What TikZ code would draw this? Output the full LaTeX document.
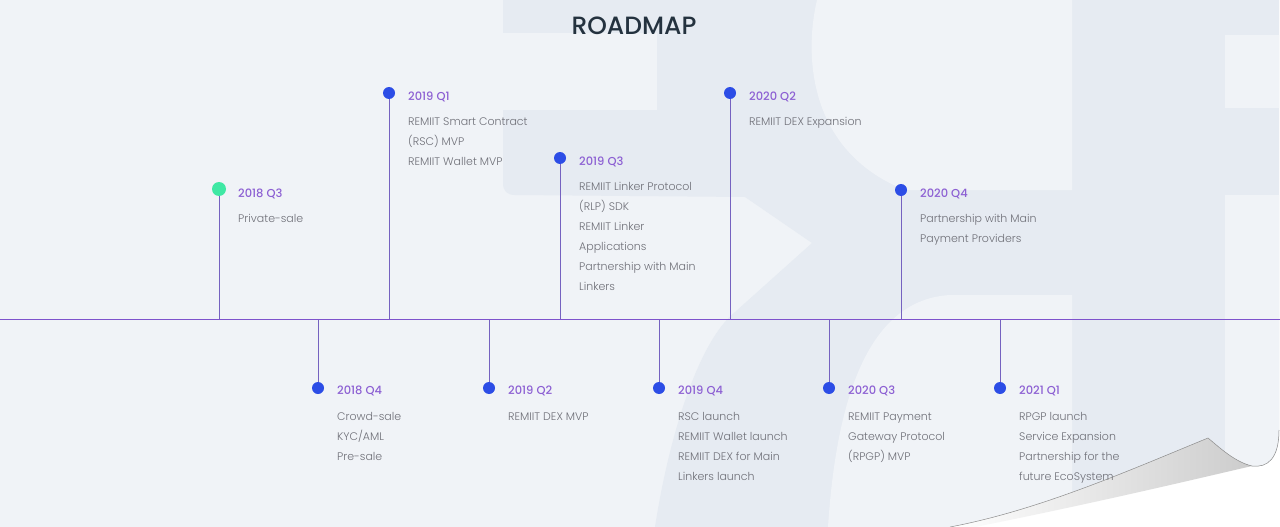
\documentclass[tikz,border=0pt]{standalone}
\usepackage{fontspec}
\setmainfont{Poppins}
\newfontfamily\medfont{Poppins Medium}
\newfontfamily\lightfont{Poppins Light}
\usetikzlibrary{calc,positioning}

\definecolor{pagebg}{HTML}{F0F3F7}
\definecolor{wmark}{HTML}{E6EBF2}
\definecolor{titlec}{HTML}{24323F}
\definecolor{qpurple}{HTML}{8C5FD3}
\definecolor{qgray}{HTML}{6F7078}
\definecolor{dotblue}{HTML}{2C4DE6}
\definecolor{dotgreen}{HTML}{3FE8A4}
\definecolor{linec}{HTML}{7E52CC}
\definecolor{stemc}{HTML}{7562C0}

\begin{document}
\begin{tikzpicture}[x=1pt,y=-1pt,
  title/.style={inner sep=0pt,text=titlec,font=\medfont\fontsize{25}{28}\selectfont},
  qlabel/.style={anchor=base west,inner sep=0pt,text=qpurple,font=\medfont\fontsize{11.5}{14}\selectfont},
  qtext/.style={anchor=base west,inner sep=0pt,align=left,text=qgray,font=\lightfont\fontsize{11}{20}\selectfont},
  stem/.style={draw=stemc,line width=1pt},
  timeline/.style={draw=linec,line width=1pt}]
\useasboundingbox (0,0) rectangle (1280,527);
\fill[white] (0,0) rectangle (1280,527);
% page with the curl cut away
\fill[pagebg] (0,0) -- (1279,0) -- (1279,430) .. controls (1279,458) and (1268,468) .. (1252,466)
  .. controls (1235,462) and (1220,448) .. (1208,438) .. controls (1130,470) and (1040,510) .. (950,527)
  -- (0,527) -- cycle;
\begin{scope}
\clip (0,0) -- (1279,0) -- (1279,430) .. controls (1279,458) and (1268,468) .. (1252,466)
  .. controls (1235,462) and (1220,448) .. (1208,438) .. controls (1130,470) and (1040,510) .. (950,527)
  -- (0,527) -- cycle;
\fill[wmark] (503,0) -- (1280,0) -- (1280,527) -- (655,527) .. controls (670,430) and (700,340) .. (735,312)
  -- (812,243) -- (745,197) -- (515,195) .. controls (507,195) and (503,191) .. (503,183) -- cycle;
\fill[pagebg] (490,33) -- (657,33) -- (657,110) -- (490,110) -- cycle;
\fill[pagebg] (817,0) .. controls (805,50) and (805,150) .. (905,190) -- (1072,190) -- (1072,0) -- cycle;
\fill[pagebg] (655,527) -- (828,527) .. controls (835,420) and (860,300) .. (950,295) -- (1072,295) -- (1072,527) -- cycle;
\fill[pagebg] (1225,35) rectangle (1280,108);
\fill[pagebg] (1225,195) rectangle (1280,527);
\end{scope}
% curl
\shade[left color=white,right color=black!20] (950,527) .. controls (1040,510) and (1130,470) .. (1208,438)
  .. controls (1220,448) and (1235,462) .. (1252,466) .. controls (1200,478) and (1100,502) .. (975,527) -- cycle;
\draw[black!45,line width=0.5pt] (950,527) .. controls (1040,510) and (1130,470) .. (1208,438)
  .. controls (1220,448) and (1235,462) .. (1252,466) .. controls (1268,468) and (1279,458) .. (1279,430);

\node[title] (title) at (634,26) {ROADMAP};

\coordinate (tl) at (0,319);
\coordinate (tr) at (1280,319);

% top events
\coordinate (q183) at (219,189);
\coordinate (q191) at (389,93);
\coordinate (q193) at (560,158);
\coordinate (q202) at (730,93);
\coordinate (q204) at (901,190);
% bottom events
\coordinate (q184) at (318,388);
\coordinate (q192) at (489,388);
\coordinate (q194) at (659,388);
\coordinate (q203) at (829,388);
\coordinate (q211) at (1000,388);

\foreach \p in {q183,q191,q193,q202,q204,q184,q192,q194,q203,q211}
  \draw[stem] (\p) -- (\p |- tl);
\draw[timeline] (tl) -- (tr);

\fill[dotgreen] (q183) circle (7);
\foreach \p in {q191,q193,q202,q204,q184,q192,q194,q203,q211}
  \fill[dotblue] (\p) circle (6);

% base anchor of a text block sits on its last line
\node[qlabel] (q183l) at ($(q183)+(19,8)$) {2018 Q3};
\node[qtext] (q183t) at ($(q183)+(19,33)$) {Private-sale};
\node[qlabel] (q191l) at ($(q191)+(19,7)$) {2019 Q1};
\node[qtext] (q191t) at ($(q191)+(19,72)$) {REMIIT Smart Contract\\(RSC) MVP\\REMIIT Wallet MVP};
\node[qlabel] (q193l) at ($(q193)+(19,7)$) {2019 Q3};
\node[qtext] (q193t) at ($(q193)+(19,132)$) {REMIIT Linker Protocol\\(RLP) SDK\\REMIIT Linker\\Applications\\Partnership with Main\\Linkers};
\node[qlabel] (q202l) at ($(q202)+(19,7)$) {2020 Q2};
\node[qtext] (q202t) at ($(q202)+(19,32)$) {REMIIT DEX Expansion};
\node[qlabel] (q204l) at ($(q204)+(19,7)$) {2020 Q4};
\node[qtext] (q204t) at ($(q204)+(19,52)$) {Partnership with Main\\Payment Providers};

\node[qlabel] (q184l) at ($(q184)+(19,6)$) {2018 Q4};
\node[qtext] (q184t) at ($(q184)+(19,72)$) {Crowd-sale\\KYC/AML\\Pre-sale};
\node[qlabel] (q192l) at ($(q192)+(19,6)$) {2019 Q2};
\node[qtext] (q192t) at ($(q192)+(19,32)$) {REMIIT DEX MVP};
\node[qlabel] (q194l) at ($(q194)+(19,6)$) {2019 Q4};
\node[qtext] (q194t) at ($(q194)+(19,92)$) {RSC launch\\REMIIT Wallet launch\\REMIIT DEX for Main\\Linkers launch};
\node[qlabel] (q203l) at ($(q203)+(19,6)$) {2020 Q3};
\node[qtext] (q203t) at ($(q203)+(19,72)$) {REMIIT Payment\\Gateway Protocol\\(RPGP) MVP};
\node[qlabel] (q211l) at ($(q211)+(19,6)$) {2021 Q1};
\node[qtext] (q211t) at ($(q211)+(19,92)$) {RPGP launch\\Service Expansion\\Partnership for the\\future EcoSystem};
\end{tikzpicture}
\end{document}
